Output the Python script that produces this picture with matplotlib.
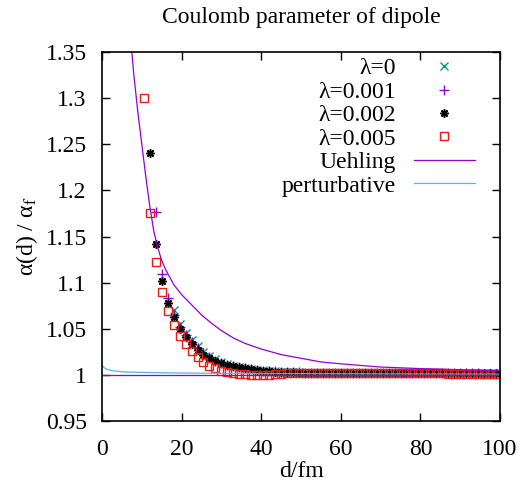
import matplotlib
matplotlib.use('Agg')
import matplotlib.pyplot as plt
from matplotlib import ticker as mticker

# distances (fm) of the computed points, spacing 1.5 fm
d_pts = [10.5, 12, 13.5, 15, 16.5, 18, 19.5, 21, 22.5, 24,
         25.5, 27, 28.5, 30, 31.5, 33, 34.5, 36, 37.5, 39,
         40.5, 42, 43.5, 45, 46.5, 48, 49.5, 51, 52.5, 54,
         55.5, 57, 58.5, 60, 61.5, 63, 64.5, 66, 67.5, 69,
         70.5, 72, 73.5, 75, 76.5, 78, 79.5, 81, 82.5, 84,
         85.5, 87, 88.5, 90, 91.5, 93, 94.5, 96, 97.5, 99]

# lambda = 0 starts at d = 18
lam0 = [1.0703, 1.0552, 1.0457, 1.0378, 1.031, 1.0252, 1.0205, 1.0167, 1.0137, 1.0114,
        1.0096, 1.0082, 1.0071, 1.0062, 1.0055, 1.0048, 1.0043, 1.0038, 1.0034, 1.0031,
        1.0028, 1.0026, 1.0024, 1.0023, 1.0022, 1.0021, 1.0020, 1.0020, 1.0019, 1.0019,
        1.0018, 1.0018, 1.0018, 1.0017, 1.0017, 1.0017, 1.0017, 1.0016, 1.0016, 1.0016,
        1.0016, 1.0016, 1.0015, 1.0015, 1.0015, 1.0015, 1.0015, 1.0015, 1.0014, 1.0014,
        1.0014, 1.0014, 1.0014, 1.0014, 1.0014]

# lambda = 0.001 starts at d = 13.5
lam001 = [1.1769, 1.1094, 1.083, 1.065, 1.0522, 1.043, 1.0355, 1.029, 1.0235, 1.019,
          1.0155, 1.013, 1.011, 1.0095, 1.0082, 1.0071, 1.0062, 1.0054, 1.0047, 1.0041,
          1.0037, 1.0033, 1.0030, 1.0028, 1.0026, 1.0025, 1.0024, 1.0023, 1.0022, 1.0021,
          1.0021, 1.0020, 1.0020, 1.0019, 1.0019, 1.0019, 1.0018, 1.0018, 1.0018, 1.0018,
          1.0017, 1.0017, 1.0017, 1.0017, 1.0016, 1.0016, 1.0016, 1.0016, 1.0016, 1.0015,
          1.0015, 1.0015, 1.0015, 1.0015, 1.0015, 1.0014, 1.0014, 1.0014]

# lambda = 0.002 starts at d = 12
lam002 = [1.240, 1.142, 1.102, 1.078, 1.063, 1.0497, 1.0407, 1.033, 1.027, 1.022,
          1.018, 1.015, 1.0125, 1.0107, 1.0092, 1.008, 1.007, 1.006, 1.0052, 1.0045,
          1.004, 1.0036, 1.0032, 1.0029, 1.0027, 1.0025, 1.0024, 1.0023, 1.0022, 1.0022,
          1.0021, 1.0021, 1.0020, 1.0020, 1.0020, 1.0019, 1.0019, 1.0019, 1.0018, 1.0018,
          1.0018, 1.0018, 1.0017, 1.0017, 1.0017, 1.0017, 1.0017, 1.0016, 1.0016, 1.0016,
          1.0016, 1.0016, 1.0016, 1.0015, 1.0015, 1.0015, 1.0015, 1.0015, 1.0015]

# lambda = 0.005 starts at d = 10.5
lam005 = [1.300, 1.175, 1.122, 1.090, 1.069, 1.054, 1.042, 1.0335, 1.0256, 1.0197,
          1.0140, 1.0098, 1.0070, 1.0045, 1.0030, 1.0018, 1.0011, 1.0007, 1.0004, 1.0002,
          1.0001, 1.0004, 1.0008, 1.0012, 1.0015, 1.0017, 1.0018, 1.0019, 1.0020, 1.0020,
          1.0021, 1.0021, 1.0020, 1.0020, 1.0019, 1.0019, 1.0018, 1.0018, 1.0018, 1.0017,
          1.0017, 1.0017, 1.0016, 1.0016, 1.0016, 1.0016, 1.0015, 1.0015, 1.0015, 1.0015,
          1.0015, 1.0014, 1.0014, 1.0014, 1.0014, 1.0014, 1.0014, 1.0013, 1.0013, 1.0013]

# Uehling curve
d_ueh = [7.5, 8, 9, 10, 11, 12, 13, 14, 15, 16, 18, 20, 22.5, 25, 27.5, 30, 33, 36,
         40, 45, 50, 55, 60, 70, 80, 90, 100]
ueh = [1.35, 1.325, 1.285, 1.250, 1.215, 1.183, 1.156, 1.138, 1.124, 1.114, 1.098,
       1.087, 1.076, 1.065, 1.056, 1.048, 1.040, 1.034, 1.028, 1.022, 1.018, 1.014,
       1.012, 1.0085, 1.0068, 1.0056, 1.0047]

# perturbative curve
d_pert = [0, 0.5, 1, 2, 3, 5, 7, 10, 15, 20, 30, 40, 60, 80, 100]
pert = [1.0105, 1.008, 1.0065, 1.005, 1.0043, 1.0034, 1.003, 1.0027, 1.0023, 1.002,
        1.0017, 1.0015, 1.0012, 1.001, 1.0009]

# reference line at 1
d_one = [0, 100]
one = [1, 1]

xticks = [0, 20, 40, 60, 80, 100]
yticks = [0.95, 1.0, 1.05, 1.1, 1.15, 1.2, 1.25, 1.3, 1.35]

PURPLE = '#9400D3'
GREEN = '#009E73'
SKY = '#56B4E9'
RED = '#E51E10'
FS = 17

plt.rcParams['font.family'] = ['Liberation Serif', 'DejaVu Serif']
plt.rcParams['mathtext.fontset'] = 'stix'
plt.rcParams['font.size'] = FS

fig = plt.figure(figsize=(5.27, 4.92), dpi=100)
ax = fig.add_axes([102 / 527, 1 - 421 / 492, 398 / 527, 369 / 492])

ax.plot(d_pts[5:], lam0, linestyle='none', marker='x', color=GREEN, markersize=6,
        markeredgewidth=1.0, label='λ=0')
ax.plot(d_pts[2:], lam001, linestyle='none', marker='+', color=PURPLE, markersize=6.5,
        markeredgewidth=1.0, label='λ=0.001')
ax.plot(d_pts[1:], lam002, linestyle='none', marker=(8, 2, 0), color='black', markersize=6,
        markeredgewidth=1.1, label='λ=0.002')
ax.plot(d_pts, lam005, linestyle='none', marker='s', color=RED, markerfacecolor='none',
        markersize=5.5, markeredgewidth=1.0, label='λ=0.005')
ax.plot(d_ueh, ueh, color=PURPLE, linewidth=0.9, label='Uehling')
ax.plot(d_pert, pert, color=SKY, linewidth=0.9, label='perturbative')
ax.plot(d_one, one, color=PURPLE, linewidth=0.9)

ax.set_xlim(0, 100)
ax.set_ylim(0.95, 1.35)
ax.set_xticks(xticks)
ax.set_yticks(yticks)
ax.yaxis.set_major_formatter(mticker.FormatStrFormatter('%g'))
ax.xaxis.set_major_formatter(mticker.FormatStrFormatter('%g'))
ax.tick_params(direction='in', top=True, right=True, length=6, width=1, labelsize=FS)
ax.tick_params(axis='y', pad=11)
ax.tick_params(axis='x', pad=13)
for s in ax.spines.values():
    s.set_linewidth(1.2)

ax.set_xlabel('d/fm', fontsize=FS, labelpad=1)
ax.set_ylabel(r'α(d) / α$_\mathrm{f}$', fontsize=FS, labelpad=4)
fig.text(301 / 527, 1 - 17 / 492, 'Coulomb parameter of dipole', ha='center', va='center',
         fontsize=FS)

ax.legend(loc='upper right', bbox_to_anchor=(0.937, 0.984), markerfirst=False, frameon=False,
          fontsize=FS, handlelength=2.6, handletextpad=0.75, labelspacing=0.08,
          borderpad=0, borderaxespad=0)

plt.savefig('out.png', dpi=100)
plt.close('all')
